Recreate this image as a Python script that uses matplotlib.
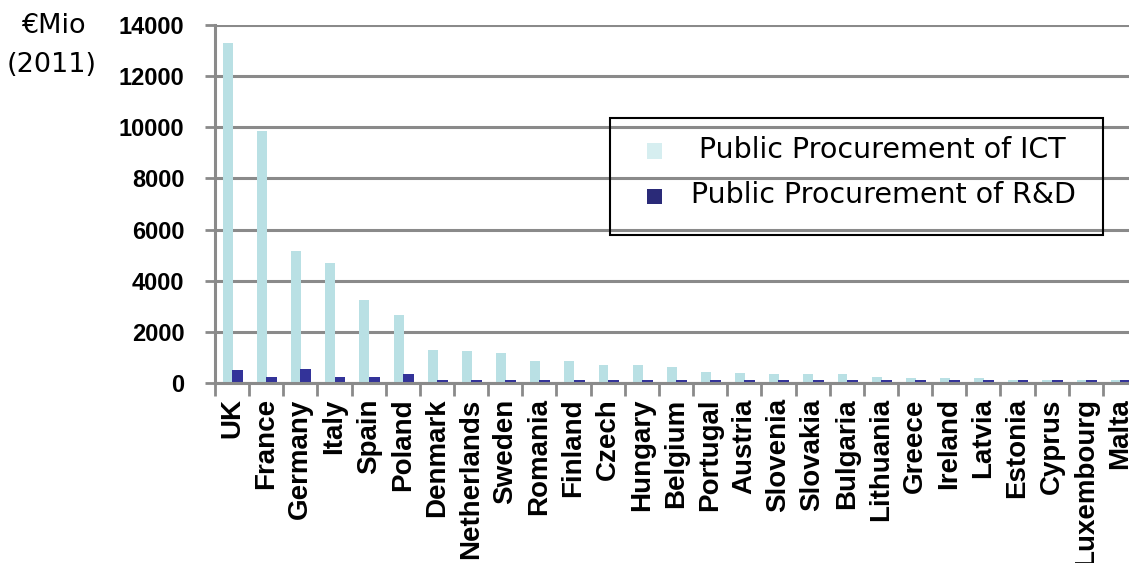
import numpy as np
import matplotlib
matplotlib.use("Agg")
import matplotlib.pyplot as plt
from matplotlib.patches import Rectangle

# data (EUR million, 2011)
countries = ["UK", "France", "Germany", "Italy", "Spain", "Poland", "Denmark",
             "Netherlands", "Sweden", "Romania", "Finland", "Czech", "Hungary",
             "Belgium", "Portugal", "Austria", "Slovenia", "Slovakia", "Bulgaria",
             "Lithuania", "Greece", "Ireland", "Latvia", "Estonia", "Cyprus",
             "Luxembourg", "Malta"]
ict = [13300, 9860, 5150, 4710, 3260, 2660, 1300, 1250, 1170, 860, 860, 700,
       700, 640, 440, 390, 340, 340, 340, 235, 180, 180, 180, 110, 110, 100, 100]
rnd = [510, 220, 560, 220, 220, 370, 100, 100, 100, 100, 100, 100,
       100, 100, 100, 100, 100, 100, 100, 100, 100, 100, 100, 100, 100, 100, 100]
yticks = [0, 2000, 4000, 6000, 8000, 10000, 12000, 14000]

ict_color = "#b9e0e4"
rnd_color = "#333399"
grid_color = "#8a8a8a"

W, H = 1129, 563
fig = plt.figure(figsize=(W / 100, H / 100), dpi=100)
ax = fig.add_axes([215 / W, (H - 383) / H, (W - 215) / W, 358 / H])

x = np.arange(len(countries))
ax.bar(x - 0.27, ict, width=0.29, align="edge", color=ict_color, zorder=2)
ax.bar(x + 0.0, rnd, width=0.32, align="edge", color=rnd_color, zorder=2)

ax.set_xlim(-0.5, -0.5 + (W - 215) / 34.15)
ax.set_ylim(0, 14000)

# y axis
ax.set_yticks(yticks)
ax.set_yticklabels([str(v) for v in yticks], fontfamily="Liberation Sans",
                   fontweight="bold", fontsize=17)
ax.tick_params(axis="y", length=7, width=2, color=grid_color, pad=15)
ax.yaxis.grid(True, color=grid_color, linewidth=2.2, zorder=0)
ax.set_axisbelow(True)

# x axis: labels at centres, tick marks between groups
ax.set_xticks(x)
ax.set_xticklabels(countries, rotation=90, fontfamily="Liberation Sans",
                   fontweight="bold", fontsize=20, va="top", ha="center")
ax.tick_params(axis="x", which="major", length=0, pad=11)
ax.set_xticks(np.arange(len(countries)) - 0.5, minor=True)
ax.tick_params(axis="x", which="minor", length=9, width=2, color=grid_color)

for side in ["top", "right"]:
    ax.spines[side].set_visible(False)
ax.spines["left"].set_color(grid_color)
ax.spines["left"].set_linewidth(2.2)
ax.spines["bottom"].set_color(grid_color)
ax.spines["bottom"].set_linewidth(2.2)

# unit label
fig.text(53 / W, (H - 33) / H, "€Mio", ha="center", va="baseline",
         fontfamily="DejaVu Sans", fontsize=19.5)
fig.text(52 / W, (H - 72) / H, "(2011)", ha="center", va="baseline",
         fontfamily="DejaVu Sans", fontsize=19.5)

# legend box drawn by hand (transparent, text centred)
fig.patches.append(Rectangle((610 / W, (H - 235) / H), 493 / W, 117 / H,
                             transform=fig.transFigure, fill=False,
                             edgecolor="black", linewidth=1.5, zorder=5))
fig.patches.append(Rectangle((647 / W, (H - 159) / H), 15 / W, 16 / H,
                             transform=fig.transFigure, facecolor="#d6eef0",
                             edgecolor="none", zorder=5))
fig.patches.append(Rectangle((647 / W, (H - 204) / H), 15 / W, 15 / H,
                             transform=fig.transFigure, facecolor="#2a2a78",
                             edgecolor="none", zorder=5))
fig.text(882 / W, (H - 158) / H, "Public Procurement of ICT", ha="center",
         va="baseline", fontfamily="DejaVu Sans", fontsize=20.5, zorder=6)
fig.text(883 / W, (H - 203) / H, "Public Procurement of R&D", ha="center",
         va="baseline", fontfamily="DejaVu Sans", fontsize=20.5, zorder=6)

fig.savefig("out.png", dpi=100)
